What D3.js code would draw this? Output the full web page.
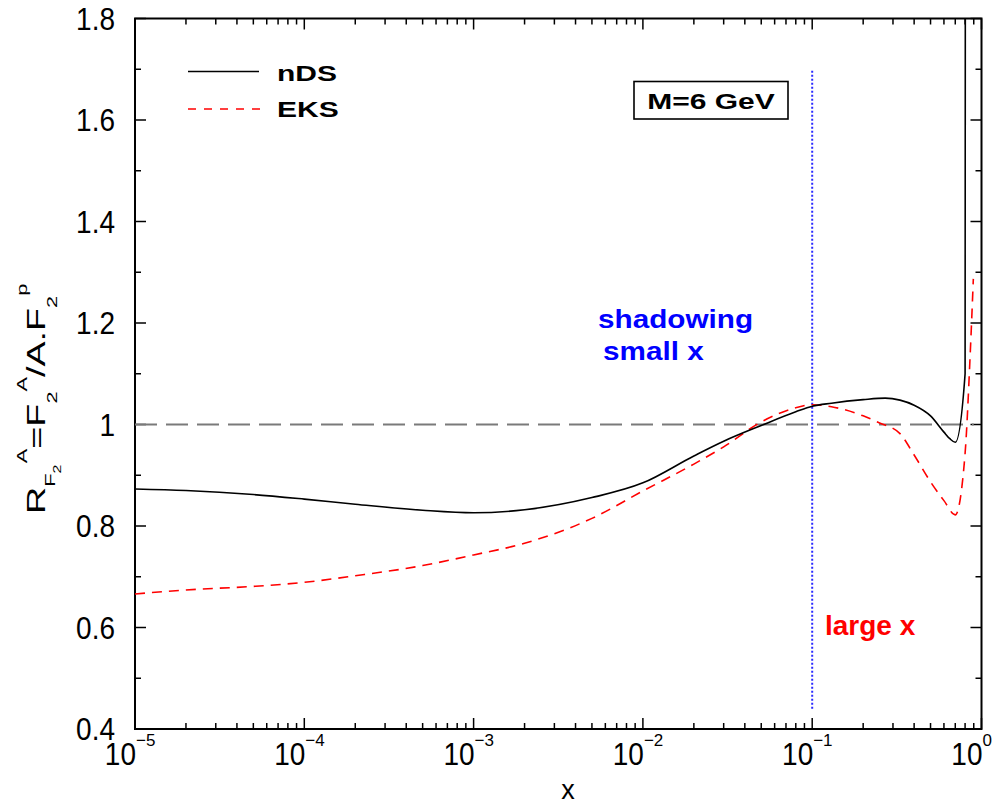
<!DOCTYPE html>
<html>
<head>
<meta charset="utf-8">
<script src="https://cdn.jsdelivr.net/npm/d3@7"></script>
<style>
  body { margin: 0; background: #fff; }
  text { font-family: "Liberation Sans", Arial, Helvetica, sans-serif; }
</style>
</head>
<body>
<svg id="chart" width="1000" height="806"></svg>
<script>
// nDS nuclear ratio R = F2^A / (A F2^p) at M = 6 GeV
const ndsX = [1e-5, 2e-5, 5e-5, 1e-4, 2e-4, 5e-4, 1e-3, 2e-3, 5e-3, 1e-2, 2e-2, 3e-2, 5e-2, 8e-2,
              0.1, 0.13, 0.2, 0.27, 0.33, 0.4, 0.5, 0.6, 0.65, 0.7, 0.8, 0.805];
const ndsY = [0.873, 0.870, 0.862, 0.853, 0.843, 0.831, 0.826, 0.832, 0.856, 0.885, 0.938, 0.967, 0.998, 1.025,
              1.036, 1.042, 1.049, 1.052, 1.048, 1.038, 1.017, 0.985, 0.972, 0.965, 1.100, 2.600];

// EKS nuclear ratio
const eksX = [1e-5, 2e-5, 5e-5, 1e-4, 2e-4, 5e-4, 1e-3, 2e-3, 5e-3, 1e-2, 2e-2, 3e-2, 5e-2, 8e-2,
              0.1, 0.13, 0.2, 0.25, 0.33, 0.4, 0.5, 0.6, 0.7, 0.8, 0.855, 0.895];
const eksY = [0.666, 0.674, 0.681, 0.689, 0.702, 0.722, 0.743, 0.766, 0.815, 0.869, 0.922, 0.956, 1.005, 1.033,
              1.039, 1.035, 1.017, 1.003, 0.982, 0.940, 0.887, 0.850, 0.822, 0.943, 1.129, 1.287];

const yTicks = [0.4, 0.6, 0.8, 1.0, 1.2, 1.4, 1.6, 1.8];
const yTickLabels = ["0.4", "0.6", "0.8", "1", "1.2", "1.4", "1.6", "1.8"];
const xDecades = [-5, -4, -3, -2, -1, 0];
const legendNames = ["nDS", "EKS"];

const unity = 1.0;          // reference line R = 1
const unityEnd = 0.9;
const split = 0.1;          // boundary between shadowing and large-x regions
const splitRange = [0.44, 1.7];

const W = 1000, H = 806;
const m = { left: 135, right: 981.5, top: 18.5, bottom: 729 };

const svg = d3.select("#chart");
const x = d3.scaleLog().domain([1e-5, 1]).range([m.left, m.right]);
const y = d3.scaleLinear().domain([0.4, 1.8]).range([m.bottom, m.top]);

svg.append("rect").attr("width", W).attr("height", H).attr("fill", "#fff");

svg.append("defs").append("clipPath").attr("id", "plot")
  .append("rect").attr("x", m.left).attr("y", m.top)
  .attr("width", m.right - m.left).attr("height", m.bottom - m.top);

// ---- ticks (all pointing inward) ----
const minorX = [];
xDecades.slice(0, -1).forEach(d => { for (let k = 2; k <= 9; k++) minorX.push(k * Math.pow(10, d)); });
const majorX = xDecades.map(d => Math.pow(10, d));
const minorY = d3.range(0.5, 1.8, 0.2).map(v => +v.toFixed(1));

const tickG = svg.append("g").attr("stroke", "#000").attr("stroke-width", 1.5);
function xt(vals, len) {
  vals.forEach(v => {
    tickG.append("line").attr("x1", x(v)).attr("x2", x(v)).attr("y1", m.bottom).attr("y2", m.bottom - len);
    tickG.append("line").attr("x1", x(v)).attr("x2", x(v)).attr("y1", m.top).attr("y2", m.top + len);
  });
}
function yt(vals, len) {
  vals.forEach(v => {
    tickG.append("line").attr("y1", y(v)).attr("y2", y(v)).attr("x1", m.left).attr("x2", m.left + len);
    tickG.append("line").attr("y1", y(v)).attr("y2", y(v)).attr("x1", m.right).attr("x2", m.right - len);
  });
}
xt(majorX, 11); xt(minorX, 6);
yt(yTicks, 11); yt(minorY, 6);

// ---- frame ----
svg.append("rect").attr("x", m.left).attr("y", m.top)
  .attr("width", m.right - m.left).attr("height", m.bottom - m.top)
  .attr("fill", "none").attr("stroke", "#000").attr("stroke-width", 2);

// ---- y tick labels ----
svg.append("g").selectAll("text").data(yTicks).join("text")
  .attr("transform", d => `translate(115,${y(d) + 11}) scale(1,1.12)`)
  .attr("text-anchor", "end").attr("font-size", 28)
  .text((d, i) => yTickLabels[i]);

// ---- x tick labels: 10^n ----
const xl = svg.append("g");
xDecades.forEach(d => {
  const px = x(Math.pow(10, d));
  xl.append("text").attr("transform", `translate(${px + 1},765) scale(1,1.15)`)
    .attr("text-anchor", "end").attr("font-size", 28).text("10");
  xl.append("text").attr("x", px + 1).attr("y", 746)
    .attr("font-size", 17).text(d === 0 ? "0" : "\u2212" + Math.abs(d));
});

// ---- axis titles ----
svg.append("text").attr("x", 568).attr("y", 799)
  .attr("text-anchor", "middle").attr("font-size", 27).text("x");

const ytl = svg.append("text").attr("transform", "translate(45,514) rotate(-90) scale(1.45,1)")
  .attr("font-size", 26);
ytl.append("tspan").text("R");
ytl.append("tspan").attr("font-size", 15).attr("dy", 10).text("F");
ytl.append("tspan").attr("font-size", 11).attr("dy", 6).text("2");
ytl.append("tspan").attr("font-size", 15).attr("dy", -34).attr("dx", 1).text("A");
ytl.append("tspan").attr("dy", 18).text("=F");
ytl.append("tspan").attr("font-size", 15).attr("dy", 12).text("2");
ytl.append("tspan").attr("font-size", 15).attr("dy", -30).text("A");
ytl.append("tspan").attr("dy", 18).text("/A.F");
ytl.append("tspan").attr("font-size", 15).attr("dy", 12).text("2");
ytl.append("tspan").attr("font-size", 15).attr("dy", -30).text("p");

// ---- reference lines ----
const plot = svg.append("g").attr("clip-path", "url(#plot)");
plot.append("line")
  .attr("x1", x(1e-5)).attr("x2", x(unityEnd)).attr("y1", y(unity)).attr("y2", y(unity))
  .attr("stroke", "#7a7a7a").attr("stroke-width", 2).attr("stroke-dasharray", "22,9");
plot.append("line")
  .attr("x1", x(split)).attr("x2", x(split)).attr("y1", y(splitRange[0])).attr("y2", y(splitRange[1]))
  .attr("stroke", "#2a2aff").attr("stroke-width", 2).attr("stroke-dasharray", "2,2");

// ---- curves ----
const line = d3.line().x(d => x(d[0])).y(d => y(d[1])).curve(d3.curveMonotoneX);
plot.append("path").datum(eksX.map((v, i) => [v, eksY[i]]))
  .attr("d", line).attr("fill", "none").attr("stroke", "#ff0000")
  .attr("stroke-width", 1.6).attr("stroke-dasharray", "10,7");
plot.append("path").datum(ndsX.map((v, i) => [v, ndsY[i]]))
  .attr("d", line).attr("fill", "none").attr("stroke", "#000")
  .attr("stroke-width", 1.6);

// ---- legend ----
const lg = svg.append("g");
lg.append("line").attr("x1", 188).attr("x2", 259).attr("y1", 71.5).attr("y2", 71.5)
  .attr("stroke", "#000").attr("stroke-width", 1.6);
lg.append("line").attr("x1", 188).attr("x2", 260).attr("y1", 109).attr("y2", 109)
  .attr("stroke", "#ff0000").attr("stroke-width", 1.6).attr("stroke-dasharray", "8,8");
lg.append("text").attr("transform", "translate(277,80.5) scale(1.2,0.9)")
  .attr("font-size", 25).attr("font-weight", "bold").text(legendNames[0]);
lg.append("text").attr("transform", "translate(277,116.5) scale(1.2,0.9)")
  .attr("font-size", 25).attr("font-weight", "bold").text(legendNames[1]);

// ---- scale box ----
svg.append("rect").attr("x", 634).attr("y", 81.5).attr("width", 154).attr("height", 37.5)
  .attr("fill", "none").attr("stroke", "#000").attr("stroke-width", 1.6);
svg.append("text").attr("transform", "translate(711,108.5) scale(1.2,0.9)")
  .attr("text-anchor", "middle").attr("font-size", 25).attr("font-weight", "bold").text("M=6 GeV");

// ---- region annotations ----
svg.append("text").attr("transform", "translate(598,328) scale(1.1,0.95)")
  .attr("font-size", 27).attr("font-weight", "bold").attr("fill", "#0000ff").text("shadowing");
svg.append("text").attr("transform", "translate(603,360) scale(1.1,0.95)")
  .attr("font-size", 27).attr("font-weight", "bold").attr("fill", "#0000ff").text("small x");
svg.append("text").attr("transform", "translate(825,635)")
  .attr("font-size", 28).attr("font-weight", "bold").attr("fill", "#ff0000").text("large x");
</script>
</body>
</html>
